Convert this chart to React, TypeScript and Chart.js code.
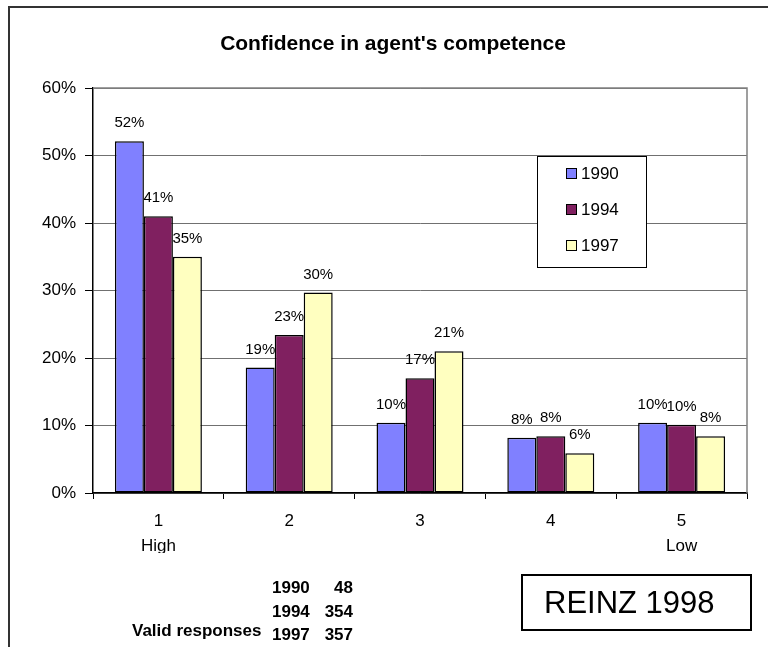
import React, { useEffect, useRef } from "react";
import { Chart, registerables } from "chart.js";

Chart.register(...registerables);

const categories: string[][] = [["1", "High"], ["2"], ["3"], ["4"], ["5", "Low"]];
const seriesNames = ["1990", "1994", "1997"];
const values1990 = [52.1, 18.6, 10.4, 8.2, 10.4];
const values1994 = [41.0, 23.4, 17.0, 8.4, 10.1];
const values1997 = [35.0, 29.7, 21.0, 5.9, 8.4];
const seriesColors = ["#8080FF", "#802060", "#FFFFC0"];
const yTicks = [0, 10, 20, 30, 40, 50, 60];
const responseYears = ["1990", "1994", "1997"];
const responseCounts = ["48", "354", "357"];

const FONT = '"Liberation Sans", Arial, sans-serif';

const legendPlugin = {
  id: "boxLegend",
  afterDraw(chart: any) {
    const { ctx, chartArea } = chart;
    const left = chartArea.left + 444;
    const top = chartArea.top + 68;
    const w = 109;
    const h = 111;
    ctx.save();
    ctx.fillStyle = "#fff";
    ctx.fillRect(left, top, w, h);
    ctx.strokeStyle = "#000";
    ctx.lineWidth = 1;
    ctx.strokeRect(left + 0.5, top + 0.5, w, h);
    chart.data.datasets.forEach((ds: any, i: number) => {
      const cy = top + 17 + i * 36;
      ctx.fillStyle = ds.backgroundColor;
      ctx.fillRect(left + 29, cy - 5, 11, 11);
      ctx.strokeStyle = "#000";
      ctx.strokeRect(left + 29.5, cy - 4.5, 10, 10);
      ctx.fillStyle = "#000";
      ctx.font = `17px ${FONT}`;
      ctx.textBaseline = "middle";
      ctx.textAlign = "left";
      ctx.fillText(ds.label, left + 44, cy + 1);
    });
    ctx.restore();
  },
};

const plotBorderPlugin = {
  id: "plotBorder",
  beforeDatasetsDraw(chart: any) {
    const { ctx, chartArea } = chart;
    ctx.save();
    ctx.strokeStyle = "#808080";
    ctx.lineWidth = 1.5;
    ctx.beginPath();
    ctx.moveTo(chartArea.left, chartArea.top);
    ctx.lineTo(chartArea.right, chartArea.top);
    ctx.lineTo(chartArea.right, chartArea.bottom);
    ctx.stroke();
    ctx.restore();
  },
};

const valueLabelPlugin = {
  id: "valueLabels",
  afterDatasetsDraw(chart: any) {
    const { ctx } = chart;
    ctx.save();
    ctx.fillStyle = "#000";
    ctx.font = `15px ${FONT}`;
    ctx.textAlign = "center";
    ctx.textBaseline = "middle";
    chart.data.datasets.forEach((ds: any, di: number) => {
      const meta = chart.getDatasetMeta(di);
      meta.data.forEach((bar: any, i: number) => {
        ctx.fillText(Math.round(ds.data[i]) + "%", bar.x, bar.y - 18);
      });
    });
    ctx.restore();
  },
};

export default function App() {
  const ref = useRef<HTMLCanvasElement>(null);

  useEffect(() => {
    if (!ref.current) return;
    const chart = new Chart(ref.current, {
      type: "bar",
      data: {
        labels: categories,
        datasets: [values1990, values1994, values1997].map((d, i) => ({
          label: seriesNames[i],
          data: d,
          backgroundColor: seriesColors[i],
          borderColor: "#000",
          borderWidth: 1.5,
          borderSkipped: false,
          categoryPercentage: 0.665,
          barPercentage: 1.0,
        })),
      },
      options: {
        responsive: false,
        animation: false,
        devicePixelRatio: 1,
        layout: { padding: { top: 88, left: 0, right: 21, bottom: 94 } },
        plugins: {
          legend: { display: false },
          title: { display: false },
          tooltip: { enabled: false },
        },
        scales: {
          x: {
            grid: {
              display: true,
              drawOnChartArea: false,
              drawTicks: true,
              tickLength: 6,
              color: "#000",
              offset: true,
            },
            border: { display: true, color: "#000", width: 1.5 },
            ticks: {
              color: "#000",
              font: { family: FONT, size: 17, lineHeight: 1.45 },
              padding: 10,
              maxRotation: 0,
              autoSkip: false,
            },
            afterFit: (s: any) => {
              s.height = 60;
            },
          },
          y: {
            min: 0,
            max: 60,
            afterBuildTicks: (s: any) => {
              s.ticks = yTicks.map((v) => ({ value: v }));
            },
            grid: {
              color: "#707070",
              lineWidth: 1,
              tickLength: 8,
              tickColor: "#000",
            },
            border: { display: true, color: "#000", width: 1.5 },
            ticks: {
              color: "#000",
              font: { family: FONT, size: 17 },
              padding: 9,
              callback: (v: any) => v + "%",
            },
            afterFit: (s: any) => {
              s.width = 93;
            },
          },
        },
      },
      plugins: [plotBorderPlugin, valueLabelPlugin, legendPlugin],
    });
    return () => chart.destroy();
  }, []);

  const boldText: React.CSSProperties = {
    position: "absolute",
    fontFamily: FONT,
    fontWeight: "bold",
    fontSize: 17,
    lineHeight: "20px",
    color: "#000",
    whiteSpace: "nowrap",
  };

  return (
    <div
      style={{
        position: "fixed",
        left: 0,
        top: 0,
        width: 768,
        height: 647,
        overflow: "hidden",
        background: "#fff",
      }}
    >
      <div
        style={{
          position: "absolute",
          left: 8,
          top: 6,
          width: 2000,
          height: 2000,
          borderTop: "2px solid #333",
          borderLeft: "2px solid #333",
        }}
      />
      <canvas
        ref={ref}
        width={768}
        height={647}
        style={{ position: "absolute", left: 0, top: 0, width: 768, height: 647 }}
      />
      <div
        style={{
          position: "absolute",
          left: 193,
          width: 400,
          top: 30,
          textAlign: "center",
          fontFamily: FONT,
          fontWeight: "bold",
          fontSize: 21,
          lineHeight: "26px",
          color: "#000",
          whiteSpace: "nowrap",
        }}
      >
        Confidence in agent's competence
      </div>
      {responseYears.map((yr, i) => (
        <React.Fragment key={yr}>
          <div style={{ ...boldText, left: 272, top: 578 + i * 23.5 }}>{yr}</div>
          <div style={{ ...boldText, left: 312, width: 41, textAlign: "right", top: 578 + i * 23.5 }}>
            {responseCounts[i]}
          </div>
        </React.Fragment>
      ))}
      <div style={{ ...boldText, left: 132, top: 621 }}>Valid responses</div>
      <div
        style={{
          position: "absolute",
          left: 521,
          top: 574,
          width: 231,
          height: 57,
          border: "2px solid #000",
          fontFamily: FONT,
          fontSize: 31,
          lineHeight: "53px",
          color: "#000",
          paddingLeft: 21,
          boxSizing: "border-box",
          whiteSpace: "nowrap",
        }}
      >
        REINZ 1998
      </div>
    </div>
  );
}
